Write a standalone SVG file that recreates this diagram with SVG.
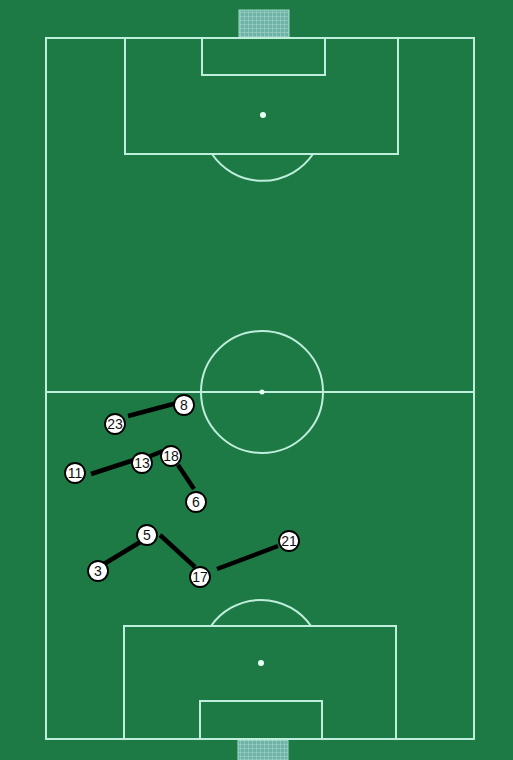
<svg xmlns="http://www.w3.org/2000/svg" width="513" height="760" viewBox="0 0 513 760">
<defs>
<pattern id="net" width="4" height="4" patternUnits="userSpaceOnUse">
<rect width="4" height="4" fill="#6fb3a6"/>
<path d="M0 0H4M0 0V4" stroke="#a9d8cf" stroke-width="1"/>
</pattern>
</defs>
<style>
.ln{fill:none;stroke:#bfeedd;stroke-width:2}
.spot{fill:#e8fff6}
.link{stroke:#000;stroke-width:4.5;stroke-linecap:butt}
.pc{fill:#fff;stroke:#000;stroke-width:1.8}
.pt{font-family:"Liberation Sans",Arial,sans-serif;font-size:14px;fill:#111;text-anchor:middle;dominant-baseline:central}
</style>
<rect width="513" height="760" fill="#1d7a45"/>
<g id="pitch">
<rect x="239" y="10" width="50" height="28" fill="url(#net)" stroke="#9fd9cc" stroke-width="1"/>
<rect x="238" y="740" width="50" height="20" fill="url(#net)" stroke="#9fd9cc" stroke-width="1"/>
<rect class="ln" x="46" y="38" width="428" height="701"/>
<line class="ln" x1="46" y1="392" x2="474" y2="392"/>
<circle class="ln" cx="262" cy="392" r="61"/>
<circle class="spot" cx="262" cy="392" r="2.5"/>
<rect class="ln" x="125" y="38" width="273" height="116"/>
<rect class="ln" x="202" y="38" width="123" height="37"/>
<circle class="spot" cx="263" cy="115" r="3"/>
<path class="ln" d="M212 154A61 61 0 0 0 313 154"/>
<rect class="ln" x="124" y="626" width="272" height="113"/>
<rect class="ln" x="200" y="701" width="122" height="38"/>
<circle class="spot" cx="261" cy="663" r="3"/>
<path class="ln" d="M211 626A61 61 0 0 1 311 626"/>
</g>
<g id="connectors">
<line class="link" x1="128" y1="416" x2="177" y2="403"/>
<line class="link" x1="91" y1="474" x2="134" y2="460"/>
<line class="link" x1="148" y1="457" x2="163" y2="451"/>
<line class="link" x1="178" y1="465" x2="194" y2="489"/>
<line class="link" x1="104" y1="564" x2="142" y2="541"/>
<line class="link" x1="160" y1="535" x2="195" y2="567"/>
<line class="link" x1="217" y1="569" x2="278" y2="546"/>
</g>
<g id="p8"><circle class="pc" cx="184" cy="405" r="10"/><text class="pt" x="184" y="405">8</text></g>
<g id="p23"><circle class="pc" cx="115" cy="424" r="10"/><text class="pt" x="115" y="424">23</text></g>
<g id="p11"><circle class="pc" cx="75" cy="473" r="10"/><text class="pt" x="75" y="473">11</text></g>
<g id="p13"><circle class="pc" cx="142" cy="463" r="10"/><text class="pt" x="142" y="463">13</text></g>
<g id="p18"><circle class="pc" cx="171" cy="456" r="10"/><text class="pt" x="171" y="456">18</text></g>
<g id="p6"><circle class="pc" cx="196" cy="502" r="10"/><text class="pt" x="196" y="502">6</text></g>
<g id="p5"><circle class="pc" cx="147" cy="535" r="10"/><text class="pt" x="147" y="535">5</text></g>
<g id="p3"><circle class="pc" cx="98" cy="571" r="10"/><text class="pt" x="98" y="571">3</text></g>
<g id="p17"><circle class="pc" cx="200" cy="577" r="10"/><text class="pt" x="200" y="577">17</text></g>
<g id="p21"><circle class="pc" cx="289" cy="541" r="10"/><text class="pt" x="289" y="541">21</text></g>
</svg>
